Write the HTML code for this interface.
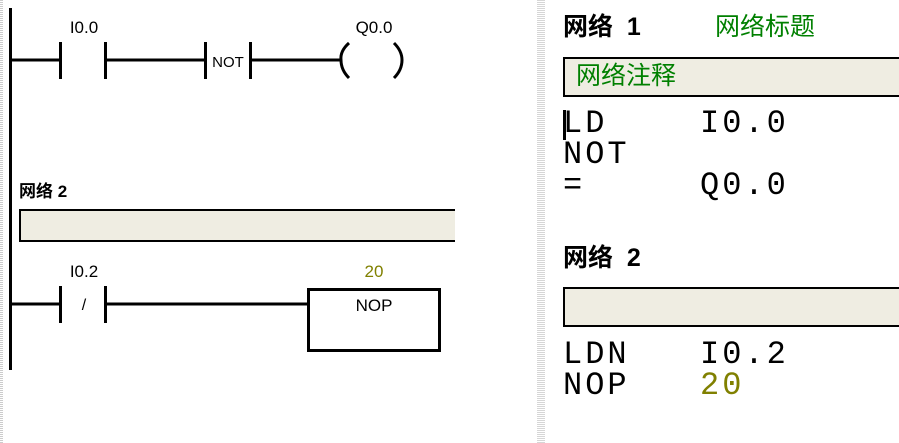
<!DOCTYPE html>
<html><head><meta charset="utf-8"><style>
body{margin:0;width:899px;height:443px;background:#fff;position:relative;overflow:hidden;font-family:"Liberation Sans","Noto Sans CJK SC",sans-serif}
.a{position:absolute;white-space:nowrap}
.m{font-family:"Liberation Mono","Noto Sans CJK SC",monospace;font-size:32px;letter-spacing:3px;line-height:30px}
.dots{position:absolute;top:0;height:443px;background:repeating-linear-gradient(0deg,#ccc 0 1px,#fff 1px 2px)}
</style></head><body>
<div class="dots" style="left:0;width:3px"></div>
<div class="dots" style="left:537px;width:8px;opacity:.8"></div>
<svg class="a" style="left:0;top:0" width="520" height="443">
<g stroke="#000" fill="none">
<line x1="10.5" y1="8" x2="10.5" y2="370" stroke-width="3"/>
<line x1="10" y1="60" x2="60" y2="60" stroke-width="3"/>
<line x1="105" y1="60" x2="205" y2="60" stroke-width="3"/>
<line x1="250" y1="60" x2="340" y2="60" stroke-width="3"/>
<line x1="60.5" y1="42" x2="60.5" y2="79" stroke-width="3"/>
<line x1="105.5" y1="42" x2="105.5" y2="79" stroke-width="3"/>
<line x1="205.5" y1="42" x2="205.5" y2="79" stroke-width="3"/>
<line x1="250.5" y1="42" x2="250.5" y2="79" stroke-width="3"/>
<path d="M349 43 Q340 51 341 60 Q341 70 349 78" stroke-width="3"/>
<path d="M394 43 Q402 51 402 60 Q402 70 394 78" stroke-width="3"/>
<rect x="20" y="210" width="440" height="31" fill="#efede2" stroke-width="2"/>
<line x1="10" y1="304" x2="60" y2="304" stroke-width="3"/>
<line x1="105" y1="304" x2="307" y2="304" stroke-width="3"/>
<line x1="60.5" y1="286" x2="60.5" y2="323" stroke-width="3"/>
<line x1="105.5" y1="286" x2="105.5" y2="323" stroke-width="3"/>
<rect x="308.5" y="289.5" width="131" height="61" stroke-width="3"/>
</g>
<rect x="455" y="205" width="70" height="40" fill="#fff"/>
<g font-family="Liberation Sans,sans-serif" font-size="17" fill="#000" text-anchor="middle">
<text x="84" y="33">I0.0</text>
<text x="374" y="33">Q0.0</text>
<text x="228" y="67" font-size="15">NOT</text>
<text x="84" y="310" font-size="16">/</text>
<text x="84" y="277">I0.2</text>
<text x="374" y="277" fill="#808000">20</text>
<text x="374" y="311">NOP</text>
</g>
<text x="19" y="197" font-family="Liberation Sans,Noto Sans CJK SC,sans-serif" font-size="17" font-weight="bold">网络 2</text>
</svg>
<div class="a" style="left:563px;top:12px;font-size:25px;font-weight:bold;line-height:30px">网络&nbsp;&nbsp;1</div>
<div class="a" style="left:715px;top:12px;font-size:25px;color:#008000;line-height:30px">网络标题</div>
<div class="a" style="left:563px;top:57px;width:340px;background:#efede2;border:2px solid #000;box-sizing:border-box;height:40px"></div>
<div class="a" style="left:576px;top:60px;font-size:25px;color:#008000;line-height:32px">网络注释</div>
<div class="a m" style="left:563px;top:109px">LD</div>
<div class="a" style="left:563px;top:110px;width:3px;height:30px;background:#000"></div>
<div class="a m" style="left:700px;top:109px">I0.0</div>
<div class="a m" style="left:563px;top:140px">NOT</div>
<div class="a m" style="left:563px;top:171px">=</div>
<div class="a m" style="left:700px;top:171px">Q0.0</div>
<div class="a" style="left:563px;top:243px;font-size:25px;font-weight:bold;line-height:30px">网络&nbsp;&nbsp;2</div>
<div class="a" style="left:563px;top:287px;width:340px;height:40px;background:#efede2;border:2px solid #000;box-sizing:border-box"></div>
<div class="a m" style="left:563px;top:340px">LDN</div>
<div class="a m" style="left:700px;top:340px">I0.2</div>
<div class="a m" style="left:563px;top:371px">NOP</div>
<div class="a m" style="left:700px;top:371px;color:#808000">20</div>
</body></html>
